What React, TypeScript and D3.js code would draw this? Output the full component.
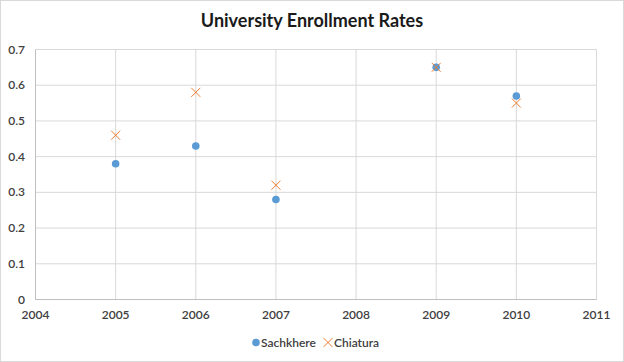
import React, { useEffect, useRef } from 'react';
import * as d3 from 'd3';

const years = [2005, 2006, 2007, 2009, 2010];
const sachkhere = [0.38, 0.43, 0.28, 0.65, 0.57];
const chiatura = [0.46, 0.58, 0.32, 0.65, 0.55];
const yTicks = [0, 0.1, 0.2, 0.3, 0.4, 0.5, 0.6, 0.7];
const xTicks = [2004, 2005, 2006, 2007, 2008, 2009, 2010, 2011];

const App = () => {
  const svgRef = useRef<SVGSVGElement>(null);

  useEffect(() => {
    const width = 624;
    const height = 362;
    const svg = d3.select(svgRef.current);
    svg.selectAll('*').remove();
    const font = 'Lato, "Open Sans", sans-serif';

    // chart frame
    svg.append('rect')
      .attr('x', 0.5).attr('y', 0.5)
      .attr('width', width - 1).attr('height', height - 1)
      .attr('fill', 'white').attr('stroke', '#d9d9d9');

    const x = d3.scaleLinear().domain([2004, 2011]).range([35.5, 596.5]);
    const y = d3.scaleLinear().domain([0, 0.7]).range([299.5, 49.5]);

    // grid
    svg.append('g').selectAll('line').data(yTicks).enter().append('line')
      .attr('x1', x(2004)).attr('x2', x(2011))
      .attr('y1', d => y(d)).attr('y2', d => y(d))
      .attr('stroke', '#d9d9d9');
    svg.append('g').selectAll('line').data(xTicks).enter().append('line')
      .attr('x1', d => x(d)).attr('x2', d => x(d))
      .attr('y1', y(0)).attr('y2', y(0.7))
      .attr('stroke', '#d9d9d9');

    // axes lines
    svg.append('line')
      .attr('x1', x(2004)).attr('x2', x(2011))
      .attr('y1', y(0)).attr('y2', y(0))
      .attr('stroke', '#bfbfbf');
    svg.append('line')
      .attr('x1', x(2004)).attr('x2', x(2004))
      .attr('y1', y(0)).attr('y2', y(0.7))
      .attr('stroke', '#bfbfbf');

    // tick labels
    svg.append('g').selectAll('text').data(yTicks).enter().append('text')
      .attr('x', 25).attr('y', d => y(d) + 4)
      .attr('text-anchor', 'end')
      .attr('font-family', font).attr('font-size', 12)
      .attr('font-weight', 600).attr('fill', '#404040')
      .text(d => d === 0 ? '0' : d3.format('.1f')(d));
    svg.append('g').selectAll('text').data(xTicks).enter().append('text')
      .attr('x', d => x(d)).attr('y', 319)
      .attr('text-anchor', 'middle')
      .attr('font-family', font).attr('font-size', 12)
      .attr('font-weight', 600).attr('fill', '#404040')
      .text(d => String(d));

    // Sachkhere points
    svg.append('g').selectAll('circle').data(years).enter().append('circle')
      .attr('cx', d => x(d)).attr('cy', (d, i) => y(sachkhere[i]))
      .attr('r', 3.8).attr('fill', '#5b9bd5');

    // Chiatura crosses
    const cross = (gsel, cx, cy, s) => {
      gsel.append('path')
        .attr('d', `M${cx - s},${cy - s}L${cx + s},${cy + s}M${cx - s},${cy + s}L${cx + s},${cy - s}`)
        .attr('stroke', '#ed7d31').attr('stroke-width', 1).attr('fill', 'none');
    };
    const cg = svg.append('g');
    years.forEach((d, i) => cross(cg, x(d), y(chiatura[i]), 4.5));

    // title
    svg.append('text')
      .attr('x', width / 2).attr('y', 27)
      .attr('text-anchor', 'middle')
      .attr('font-family', font).attr('font-size', 18)
      .attr('font-weight', 'bold').attr('fill', '#1a1a1a')
      .text('University Enrollment Rates');

    // legend
    const lg = svg.append('g');
    lg.append('circle').attr('cx', 256).attr('cy', 342.5).attr('r', 3.8).attr('fill', '#5b9bd5');
    lg.append('text').attr('x', 261).attr('y', 346.5)
      .attr('font-family', font).attr('font-size', 12).attr('font-weight', 600).attr('fill', '#404040')
      .text('Sachkhere');
    cross(lg, 328, 342.5, 4.5);
    lg.append('text').attr('x', 334).attr('y', 346.5)
      .attr('font-family', font).attr('font-size', 12).attr('font-weight', 600).attr('fill', '#404040')
      .text('Chiatura');
  }, []);

  return (
    <div>
      <style>{`body{margin:0}`}</style>
      <svg ref={svgRef} width={624} height={362} style={{ display: 'block' }}></svg>
    </div>
  );
};

export default App;
